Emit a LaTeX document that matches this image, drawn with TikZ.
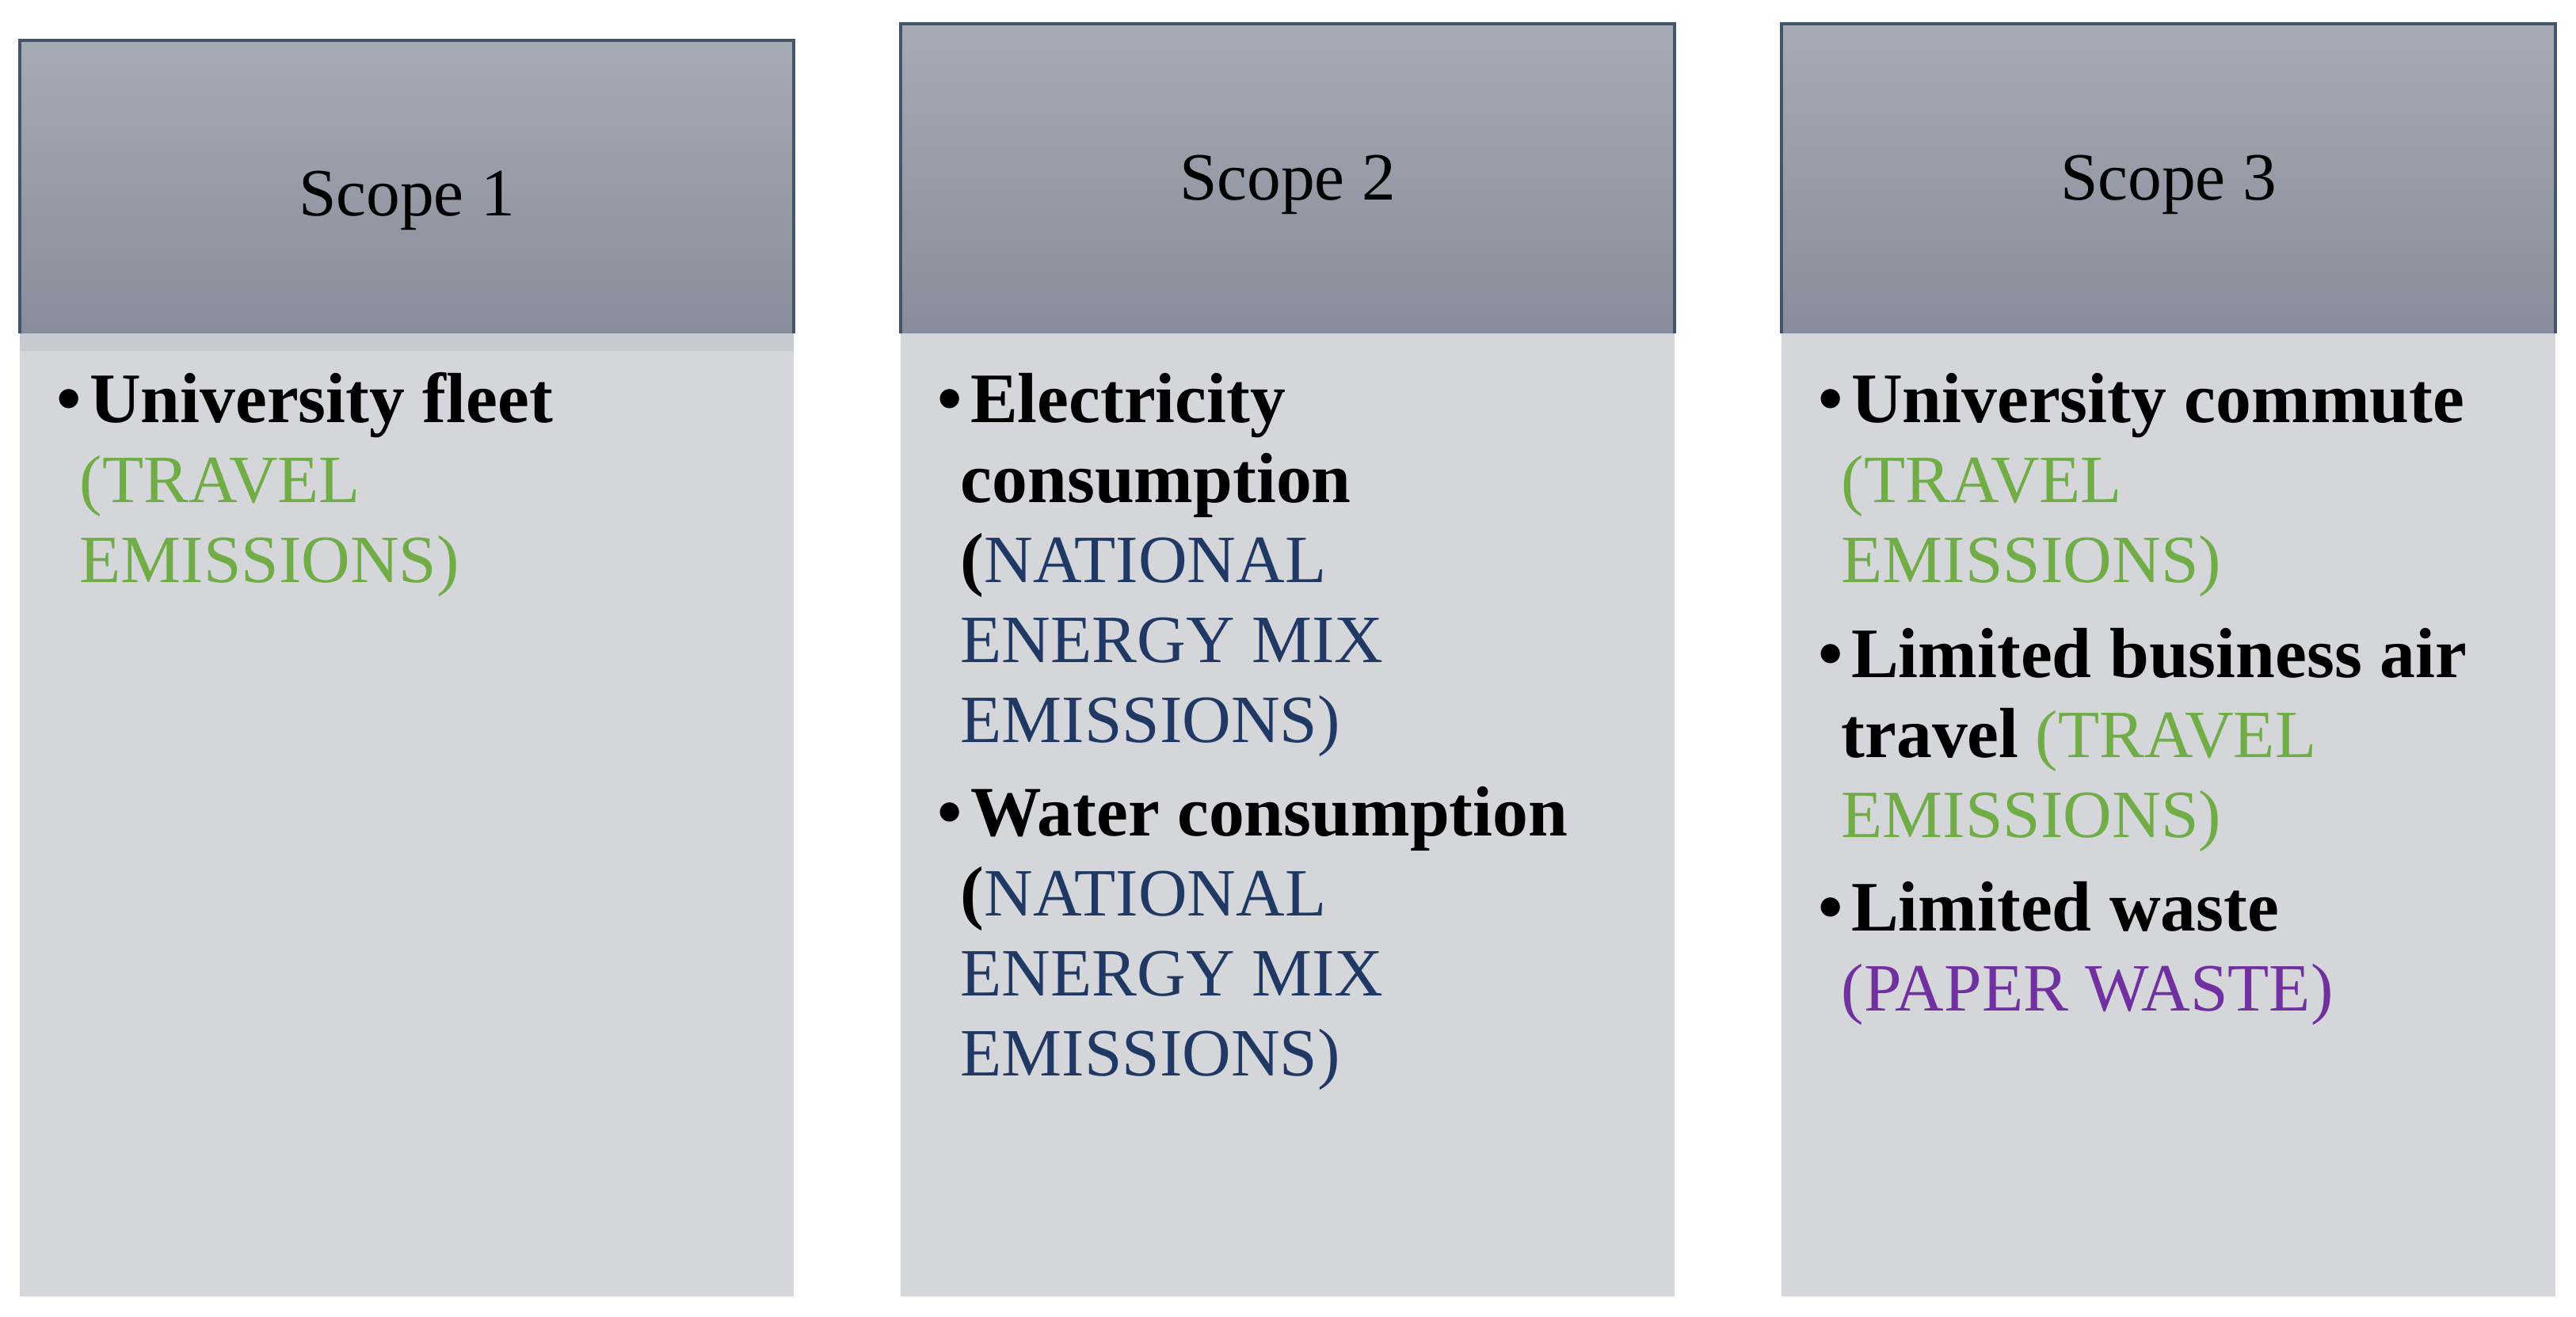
\documentclass[tikz,border=0pt]{standalone}
\usepackage{fontspec}
\setmainfont{Liberation Serif}
\definecolor{hdrtop}{RGB}{166,170,180}
\definecolor{hdrbot}{RGB}{135,141,154}
\definecolor{bordc}{HTML}{44546A}
\definecolor{bodyc}{RGB}{213,214,217}
\definecolor{bandc}{RGB}{199,202,206}
\definecolor{tgreen}{HTML}{70AD47}
\definecolor{tblue}{HTML}{1F3864}
\definecolor{tpurple}{HTML}{7030A0}
\newcommand{\bt}[1]{{\fontsize{25.5}{28.74}\selectfont\bfseries #1}}
\newcommand{\itembul}{\hspace*{0.124cm}\llap{\bt{\textbullet}\hspace{0.10cm}}}
\begin{document}
\begin{tikzpicture}[
  hdr/.style={draw=none, inner sep=0, outer sep=0, anchor=north west, top color=hdrtop, bottom color=hdrbot, minimum width=9.77cm},
  bodybox/.style={fill=bodyc, inner sep=0, outer sep=0, anchor=north west, minimum width=9.77cm, minimum height=12.16cm},
  edgeline/.style={draw=bordc, line width=1.1pt},
  title/.style={anchor=base, inner sep=0, font=\fontsize{24.3}{28.74}\selectfont},
  item/.style={anchor=base west, align=left, inner sep=0, font=\fontsize{24.3}{28.74}\selectfont},
]
\useasboundingbox (0,0) rectangle (32.52,16.62);

% headers
\node[hdr, minimum height=3.70cm] (h1) at (0.25,16.11) {};
\node[hdr, minimum height=3.91cm] (h2) at (11.37,16.32) {};
\node[hdr, minimum height=3.91cm] (h3) at (22.49,16.32) {};

% bodies
\node[bodybox] (b1) at (h1.south west) {};
\node[bodybox] (b2) at (h2.south west) {};
\node[bodybox] (b3) at (h3.south west) {};
\fill[bandc] (b1.north west) rectangle ++(9.77,-0.22);

% header borders
\draw[edgeline] (h1.south west) -- (h1.north west) -- (h1.north east) -- (h1.south east);
\draw[edgeline] (h2.south west) -- (h2.north west) -- (h2.north east) -- (h2.south east);
\draw[edgeline] (h3.south west) -- (h3.north west) -- (h3.north east) -- (h3.south east);

% titles
\node[title] (t1) at (5.135,13.89) {Scope 1};
\node[title] (t2) at (16.255,14.09) {Scope 2};
\node[title] (t3) at (27.375,14.09) {Scope 3};

% Scope 1 items (anchor = baseline of the last line)
\node[item] (a1) at (1.00,9.26) {\itembul\bt{University fleet}\\
  \textcolor{tgreen}{(TRAVEL}\\
  \textcolor{tgreen}{EMISSIONS)}};

% Scope 2 items
\node[item] (e1) at (12.12,7.24) {\itembul\bt{Electricity}\\
  \bt{consumption}\\
  \bt{(}\textcolor{tblue}{NATIONAL}\\
  \textcolor{tblue}{ENERGY MIX}\\
  \textcolor{tblue}{EMISSIONS)}};
\node[item] (e2) at (12.12,3.03) {\itembul\bt{Water consumption}\\
  \bt{(}\textcolor{tblue}{NATIONAL}\\
  \textcolor{tblue}{ENERGY MIX}\\
  \textcolor{tblue}{EMISSIONS)}};

% Scope 3 items
\node[item] (c1) at (23.24,9.26) {\itembul\bt{University commute}\\
  \textcolor{tgreen}{(TRAVEL}\\
  \textcolor{tgreen}{EMISSIONS)}};
\node[item] (c2) at (23.24,6.04) {\itembul\bt{Limited business air}\\
  \bt{travel} \textcolor{tgreen}{(TRAVEL}\\
  \textcolor{tgreen}{EMISSIONS)}};
\node[item] (c3) at (23.24,3.85) {\itembul\bt{Limited waste}\\
  \textcolor{tpurple}{(PAPER WASTE)}};
\end{tikzpicture}
\end{document}
